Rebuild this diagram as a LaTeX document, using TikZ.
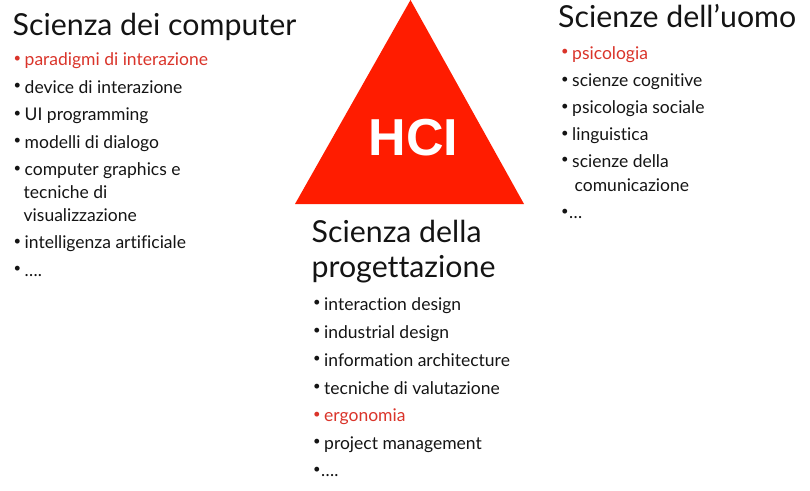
\documentclass[tikz,border=0pt]{standalone}
\usepackage{fontspec}
\setmainfont{Lato}[RawFeature={-liga;-dlig}]
\newfontfamily\hcifont{Liberation Sans}
\definecolor{hcired}{RGB}{255,28,0}
\definecolor{itemred}{RGB}{218,52,42}
\definecolor{ink}{RGB}{20,20,20}
\newcommand{\dotmark}{\raisebox{3.4pt}{\fontsize{13}{13}\selectfont\textbullet}}
\newcommand{\bul}{\makebox[11pt][l]{\dotmark}}
\tikzset{
  heading/.style={anchor=base west, inner sep=0pt, text=ink, font=\fontsize{30.3}{30.3}\selectfont},
  entry/.style={anchor=base west, inner sep=0pt, text=ink, font=\fontsize{17.5}{17.5}\selectfont},
  hot/.style={entry, text=itemred},
}
\begin{document}
\begin{tikzpicture}[x=1pt,y=-1pt]
\useasboundingbox[fill=white] (0,0) rectangle (810,490);

% central triangle
\fill[hcired] (295,204) -- (410.5,0) -- (524,204) -- cycle;
\node[anchor=base, inner sep=0pt, text=white, font=\hcifont\bfseries\fontsize{52}{52}\selectfont] (hci) at (413.5,155) {HCI};

% computer science
\node[heading] (cs) at (12.5,35) {Scienza dei computer};
\node[hot]   (cs1) at (13.5,65.5) {\bul paradigmi di interazione};
\node[entry] (cs2) at (13.5,93) {\bul device di interazione};
\node[entry] (cs3) at (13.5,120.5) {\bul UI programming};
\node[entry] (cs4) at (13.5,148) {\bul modelli di dialogo};
\node[entry] (cs5) at (13.5,175.5) {\bul computer graphics e};
\node[entry] (cs5b) at (23.5,198) {tecniche di};
\node[entry] (cs5c) at (23.5,221.5) {visualizzazione};
\node[entry] (cs6) at (13.5,248.5) {\bul intelligenza artificiale};
\node[entry] (cs7) at (13.5,276) {\bul \dots.};

% human sciences
\node[heading] (hs) at (558,27) {Scienze dell’uomo};
\node[hot]   (hs1) at (561,59) {\bul psicologia};
\node[entry] (hs2) at (561,86.5) {\bul scienze cognitive};
\node[entry] (hs3) at (561,113.5) {\bul psicologia sociale};
\node[entry] (hs4) at (561,140.5) {\bul linguistica};
\node[entry] (hs5) at (561,167) {\bul scienze della};
\node[entry] (hs5b) at (574.5,191.5) {comunicazione};
\node[entry] (hs6) at (561,218.5) {\makebox[8pt][l]{\dotmark}\dots};

% design science
\node[heading] (ds) at (311.5,242) {Scienza della};
\node[heading] (dsb) at (311.5,277) {progettazione};
\node[entry] (ds1) at (313,310) {\bul interaction design};
\node[entry] (ds2) at (313,338) {\bul industrial design};
\node[entry] (ds3) at (313,366) {\bul information architecture};
\node[entry] (ds4) at (313,394) {\bul tecniche di valutazione};
\node[hot]   (ds5) at (313,421.5) {\bul ergonomia};
\node[entry] (ds6) at (313,449) {\bul project management};
\node[entry] (ds7) at (313,476.5) {\makebox[8pt][l]{\dotmark}\dots.};
\end{tikzpicture}
\end{document}
